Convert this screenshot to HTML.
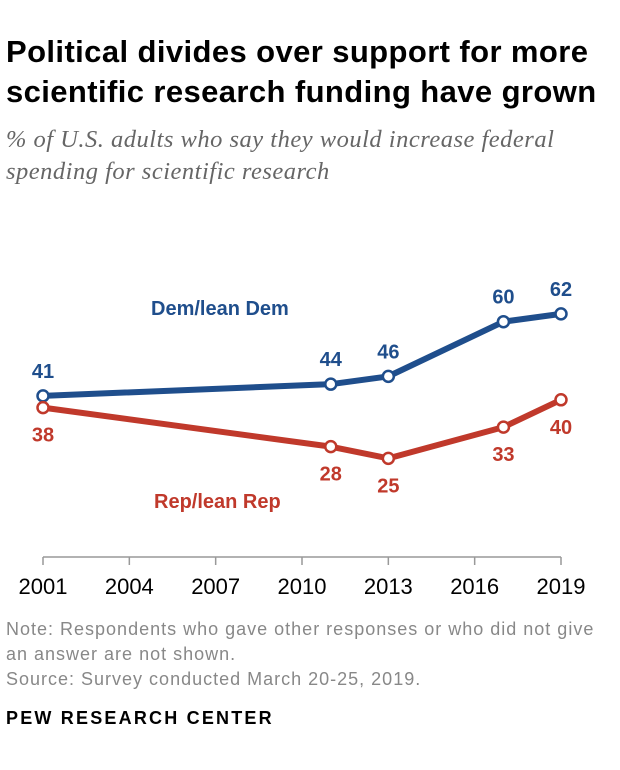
<!DOCTYPE html>
<html><head><meta charset="utf-8"><style>
body{margin:0;background:#fff;width:620px;height:770px;overflow:hidden;font-family:"Liberation Sans",sans-serif;}
.t{position:absolute;left:6px;top:32px;font-size:31px;font-weight:bold;line-height:40px;color:#000;letter-spacing:0.4px}
.s{position:absolute;left:6px;top:124px;font-family:"Liberation Serif",serif;font-style:italic;font-size:24.5px;line-height:32px;color:#666;letter-spacing:0.5px}
.n{position:absolute;left:6px;top:617px;font-size:18px;line-height:25px;color:#888;letter-spacing:1px}
.p{position:absolute;left:6px;top:708px;font-size:18px;font-weight:bold;color:#000;letter-spacing:2.2px}
</style></head><body>
<div class="t">Political divides over support for more<br>scientific research funding have grown</div>
<div class="s">% of U.S. adults who say they would increase federal<br>spending for scientific research</div>
<svg id="c" width="620" height="770" style="position:absolute;left:0;top:0"></svg>
<div class="n">Note: Respondents who gave other responses or who did not give<br>an answer are not shown.<br>Source: Survey conducted March 20-25, 2019.</div>
<div class="p">PEW RESEARCH CENTER</div>
<script>
const years=[2001,2011,2013,2017,2019];
const dem=[41,44,46,60,62];
const rep=[38,28,25,33,40];
const ticks=[2001,2004,2007,2010,2013,2016,2019];
const NS="http://www.w3.org/2000/svg";
const svg=document.getElementById('c');
const x=y=>43+(y-2001)*(561-43)/18;
const yy=v=>556-v*3.905;
function mk(t,a){const e=document.createElementNS(NS,t);for(const k in a)e.setAttribute(k,a[k]);svg.appendChild(e);return e;}
const ax=mk('line',{x1:43,x2:561,y1:557,y2:557,stroke:'#999','stroke-width':1.5});


ticks.forEach(t=>{
 const l=mk('line',{x1:x(t),x2:x(t),y1:557,y2:565,stroke:'#999','stroke-width':1.5});
 
 
 const tx=mk('text',{x:x(t),y:594,'text-anchor':'middle','font-size':22,fill:'#000'});
 tx.textContent=t;
 
 
});
function series(vals,col,name,below){
 const pl=mk('polyline',{points:years.map((y,i)=>x(y)+','+yy(vals[i])).join(' '),fill:'none',stroke:col,'stroke-width':6,'stroke-linejoin':'round'});
 
 
 years.forEach((y,i)=>{
  const c=mk('circle',{cx:x(y),cy:yy(vals[i]),r:5.5,fill:'#fff',stroke:col,'stroke-width':2.5});
  
  
  const t=mk('text',{x:x(y),y:yy(vals[i])+(below?34:-18),'text-anchor':'middle','font-size':20,'font-weight':'bold',fill:col});
  t.textContent=vals[i];
  
  
 });
}
series(dem,'#1f4e8c','dem',false);
series(rep,'#c0392b','rep',true);
const l1=mk('text',{x:151,y:315,'font-size':20,'font-weight':'bold',fill:'#1f4e8c'});
l1.textContent='Dem/lean Dem';


const l2=mk('text',{x:154,y:508,'font-size':20,'font-weight':'bold',fill:'#c0392b'});
l2.textContent='Rep/lean Rep';


</script>
</body></html>
